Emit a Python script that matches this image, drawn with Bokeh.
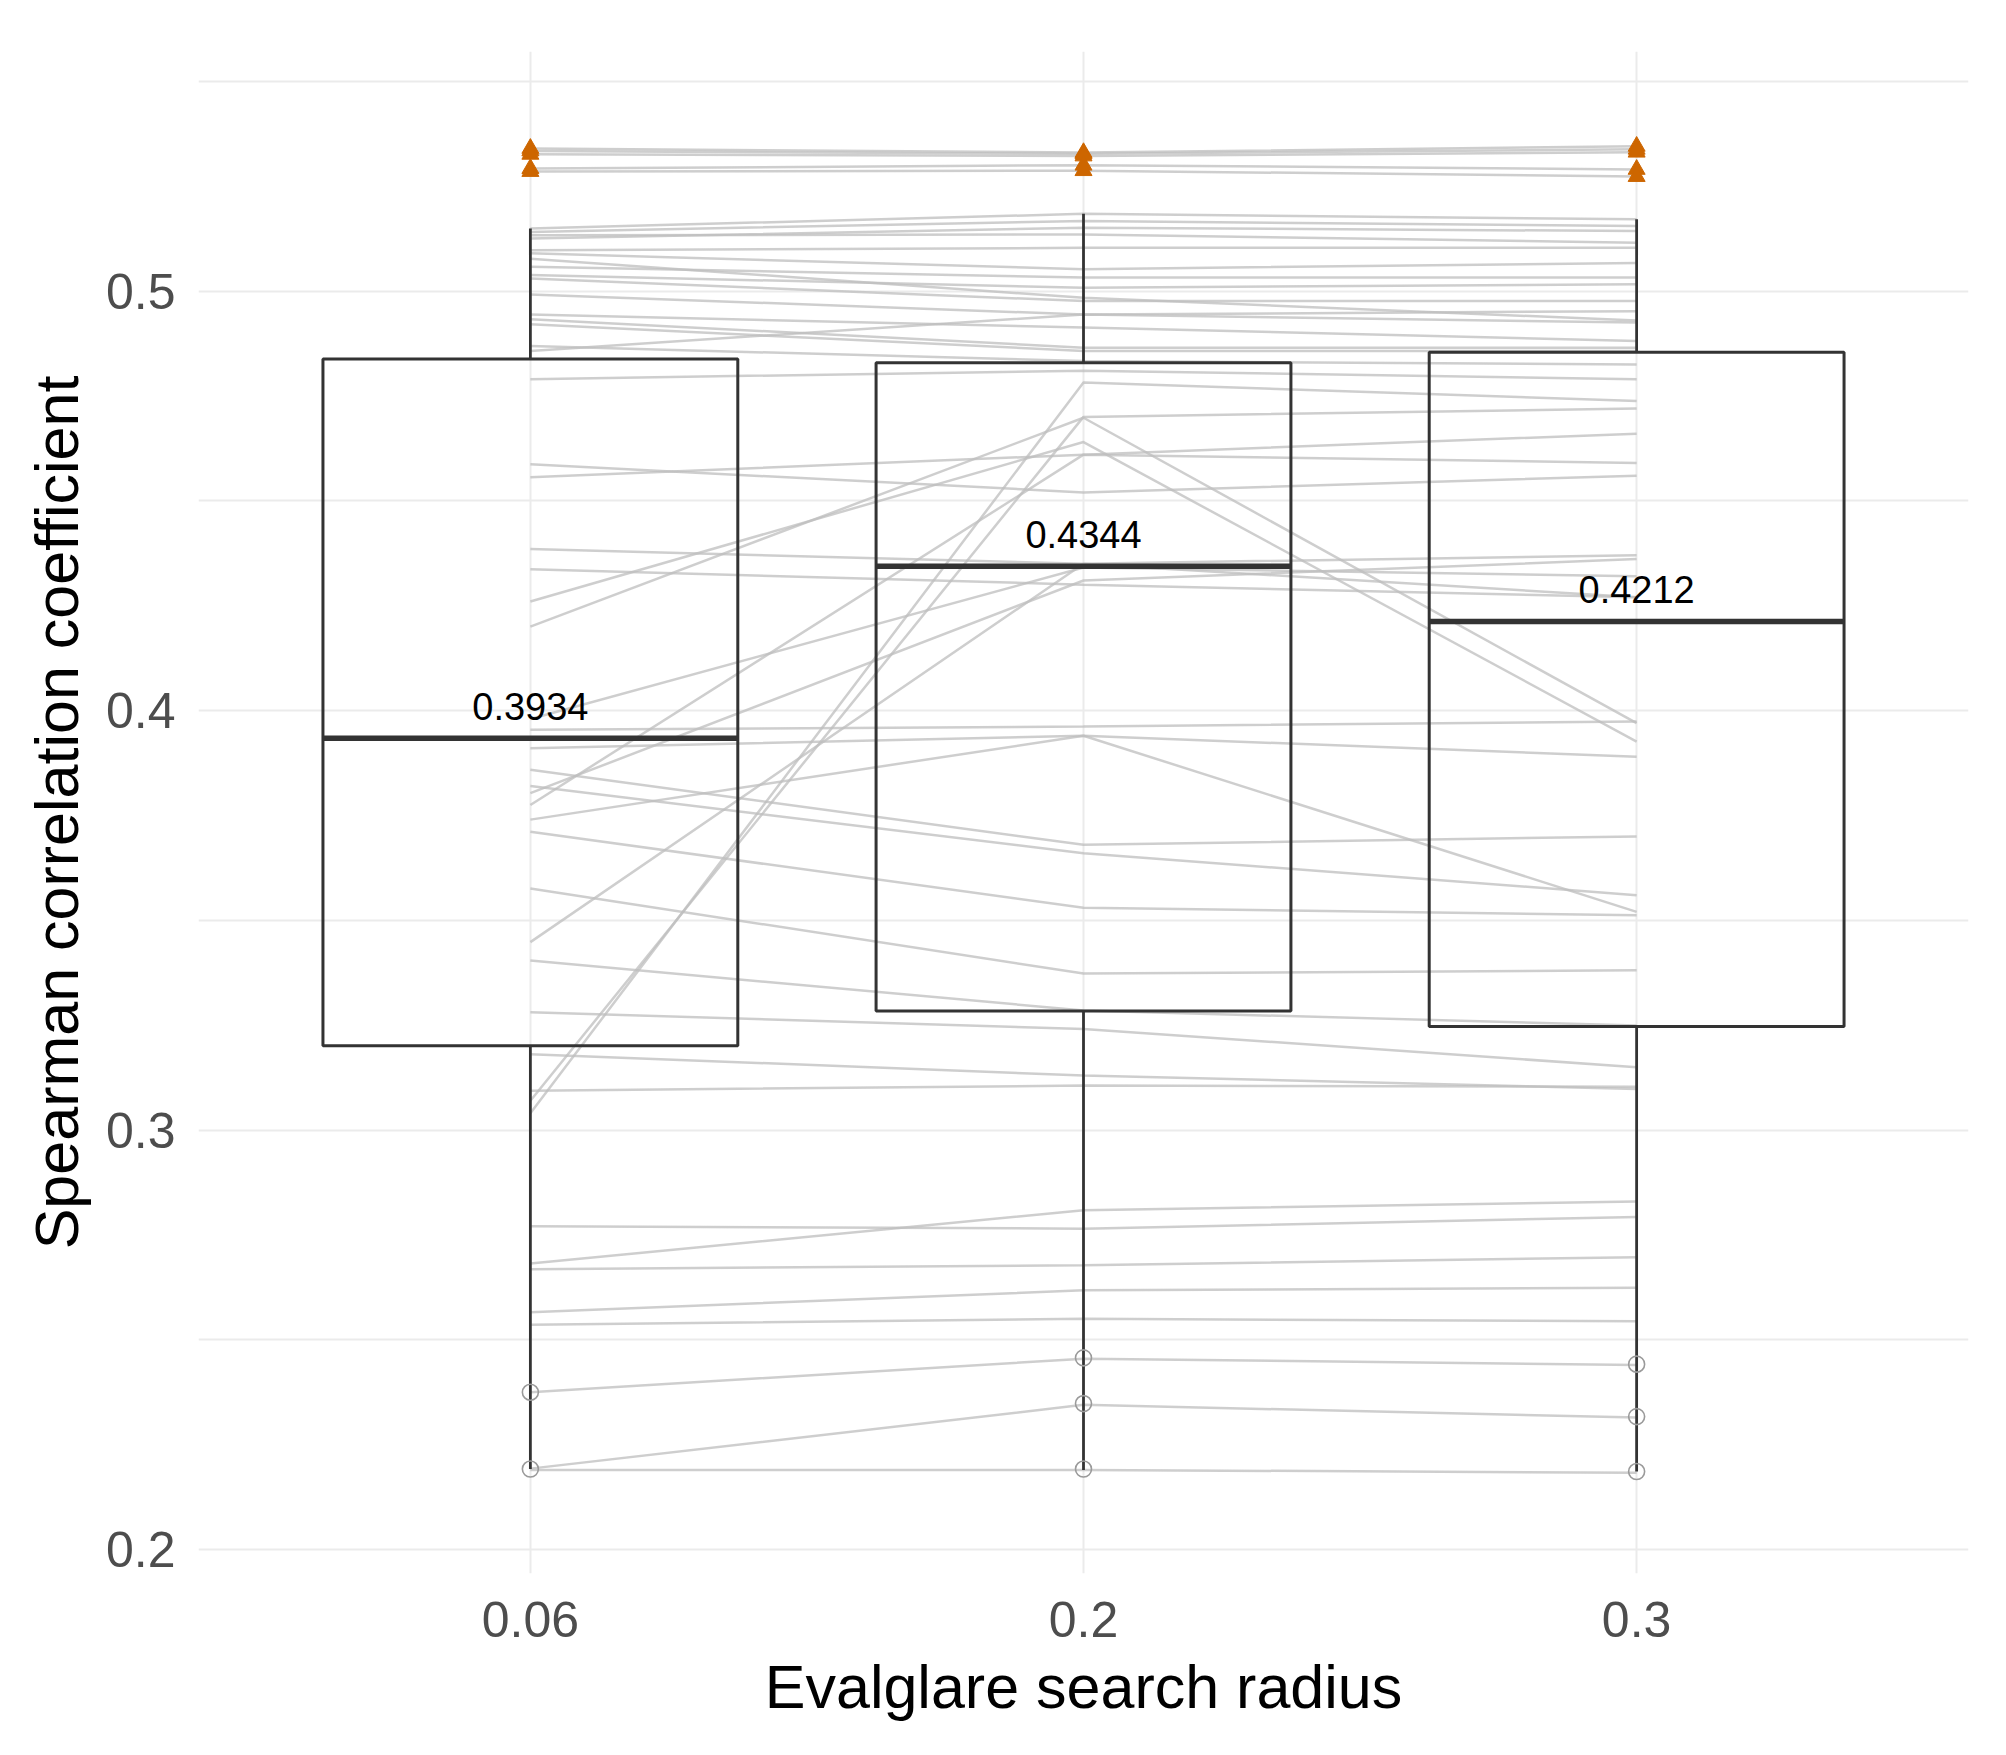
from bokeh.plotting import figure
from bokeh.models import FactorRange, Range1d, FixedTicker, ColumnDataSource
from bokeh.embed import file_html
from bokeh.resources import INLINE
from bokeh.core.properties import value

# ---------------- data ----------------
radii = ["0.06", "0.2", "0.3"]

# paired Spearman coefficients per case, one value per search radius
rho_006 = [0.5340, 0.5334, 0.5326, 0.5292, 0.5285,
           0.5149, 0.5141, 0.5125, 0.5133, 0.5097, 0.5090, 0.5077, 0.5058,
           0.5038, 0.5030, 0.4992, 0.4944, 0.4933, 0.4921, 0.4869, 0.4857,
           0.4790, 0.4587, 0.4556, 0.4385, 0.4337, 0.4200, 0.4260, 0.3980,
           0.3910, 0.3859, 0.3820, 0.3775, 0.3711, 0.3576, 0.3448, 0.3404,
           0.3281, 0.3181, 0.3070, 0.3040, 0.3740, 0.3954, 0.3803,
           0.3094, 0.2771, 0.2682, 0.2668, 0.2566, 0.2536, 0.2375, 0.2193, 0.2190]
rho_02 = [0.5330, 0.5327, 0.5322, 0.5300, 0.5287,
          0.5184, 0.5167, 0.5151, 0.5135, 0.5103, 0.5052, 0.4984, 0.5032,
          0.5008, 0.4976, 0.4944, 0.4913, 0.4865, 0.4857, 0.4833, 0.4944,
          0.4810, 0.4520, 0.4610, 0.4350, 0.4300, 0.4698, 0.4640, 0.4341,
          0.3940, 0.3680, 0.3660, 0.4610, 0.3530, 0.3373, 0.4350, 0.3285,
          0.3241, 0.3130, 0.4700, 0.4782, 0.3940, 0.3962, 0.4310,
          0.3106, 0.2765, 0.2809, 0.2678, 0.2618, 0.2550, 0.2455, 0.2345, 0.2190]
rho_03 = [0.5345, 0.5338, 0.5331, 0.5290, 0.5273,
          0.5171, 0.5155, 0.5143, 0.5115, 0.5103, 0.5067, 0.4930, 0.5032,
          0.5016, 0.4976, 0.4952, 0.4881, 0.4865, 0.4857, 0.4825, 0.4925,
          0.4790, 0.4560, 0.4660, 0.4370, 0.4270, 0.3970, 0.3926, 0.4320,
          0.3890, 0.3700, 0.3560, 0.4590, 0.3512, 0.3381, 0.4270, 0.3249,
          0.3150, 0.3098, 0.4720, 0.4738, 0.3520, 0.3974, 0.4361,
          0.3103, 0.2793, 0.2830, 0.2697, 0.2624, 0.2544, 0.2440, 0.2315, 0.2183]

box_q1 = [0.3201, 0.3284, 0.3247]
box_median = [0.3934, 0.4344, 0.4212]
box_q3 = [0.4838, 0.4829, 0.4854]
whisker_lo = [0.2192, 0.2190, 0.2186]
whisker_hi = [0.5149, 0.5184, 0.5171]
median_labels = ["0.3934", "0.4344", "0.4212"]

low_pt_radius = ["0.06", "0.06", "0.2", "0.2", "0.2", "0.3", "0.3", "0.3"]
low_pt_rho = [0.2375, 0.2192, 0.2457, 0.2348, 0.2192, 0.2442, 0.2317, 0.2186]

y_major = [0.2, 0.3, 0.4, 0.5]
y_minor = [0.25, 0.35, 0.45, 0.55]

FONT = "Liberation Sans"

# ---------------- figure ----------------
p = figure(width=1990, height=1739,
           x_range=FactorRange(factors=radii, range_padding=0.1,
                               range_padding_units="absolute"),
           y_range=Range1d(0.1943, 0.5571),
           output_backend="svg", toolbar_location=None)
p.min_border_left = 198
p.min_border_right = 22
p.min_border_top = 51
p.min_border_bottom = 166
p.outline_line_color = None

# grid
p.xgrid.grid_line_color = "#ebebeb"
p.xgrid.grid_line_width = 2
p.yaxis.ticker = FixedTicker(ticks=y_major, minor_ticks=y_minor)
p.ygrid.grid_line_color = "#ebebeb"
p.ygrid.grid_line_width = 2
p.ygrid.minor_grid_line_color = "#ebebeb"
p.ygrid.minor_grid_line_width = 2

# axes
for ax in (p.xaxis[0], p.yaxis[0]):
    ax.axis_line_color = None
    ax.major_tick_line_color = None
    ax.minor_tick_line_color = None
    ax.major_label_text_font = FONT
    ax.major_label_text_font_size = "50px"
    ax.major_label_text_color = "#4d4d4d"
    ax.axis_label_text_font = FONT
    ax.axis_label_text_font_size = "61px"
    ax.axis_label_text_font_style = "normal"
    ax.axis_label_text_color = "black"
p.xaxis.axis_label = "Evalglare search radius"
p.yaxis.axis_label = "Spearman correlation coefficient"
p.xaxis.major_label_standoff = 22
p.xaxis.axis_label_standoff = 13
p.yaxis.major_label_standoff = 17
p.yaxis.axis_label_standoff = 12

# paired lines
n = len(rho_006)
lines = ColumnDataSource(dict(
    xs=[list(radii) for _ in range(n)],
    ys=[[a, b, c] for a, b, c in zip(rho_006, rho_02, rho_03)],
))
p.multi_line(xs="xs", ys="ys", source=lines, line_color="#bdbdbd",
             line_alpha=0.75, line_width=2.5)

# boxes
p.vbar(x=radii, top=box_q3, bottom=box_q1, width=0.75, fill_color=None,
       line_color="#333333", line_width=3)
p.vbar(x=radii, top=box_median, bottom=box_median, width=0.75,
       fill_color=None, line_color="#333333", line_width=5.5)
p.segment(x0=radii, y0=box_q3, x1=radii, y1=whisker_hi,
          line_color="#333333", line_width=2.8)
p.segment(x0=radii, y0=box_q1, x1=radii, y1=whisker_lo,
          line_color="#333333", line_width=2.8)

# low points
p.scatter(x=low_pt_radius, y=low_pt_rho, marker="circle", size=16,
          fill_color=None, line_color="#9a9a9a", line_width=1.6)

# high points (above the upper whisker)
hi_x, hi_y = [], []
for i, r in enumerate(radii):
    col = (rho_006, rho_02, rho_03)[i]
    for v in col:
        if v > whisker_hi[i]:
            hi_x.append(r)
            hi_y.append(v)
p.scatter(x=hi_x, y=hi_y, marker="triangle", size=17,
          fill_color="#cd6600", line_color="#cd6600")

# median labels
p.text(x=radii, y=box_median, text=median_labels, text_align="center",
       text_baseline="alphabetic", y_offset=-32,
       text_font=value(FONT), text_font_size="38px", text_color="black")

open("out.html", "w").write(file_html(p, INLINE))
